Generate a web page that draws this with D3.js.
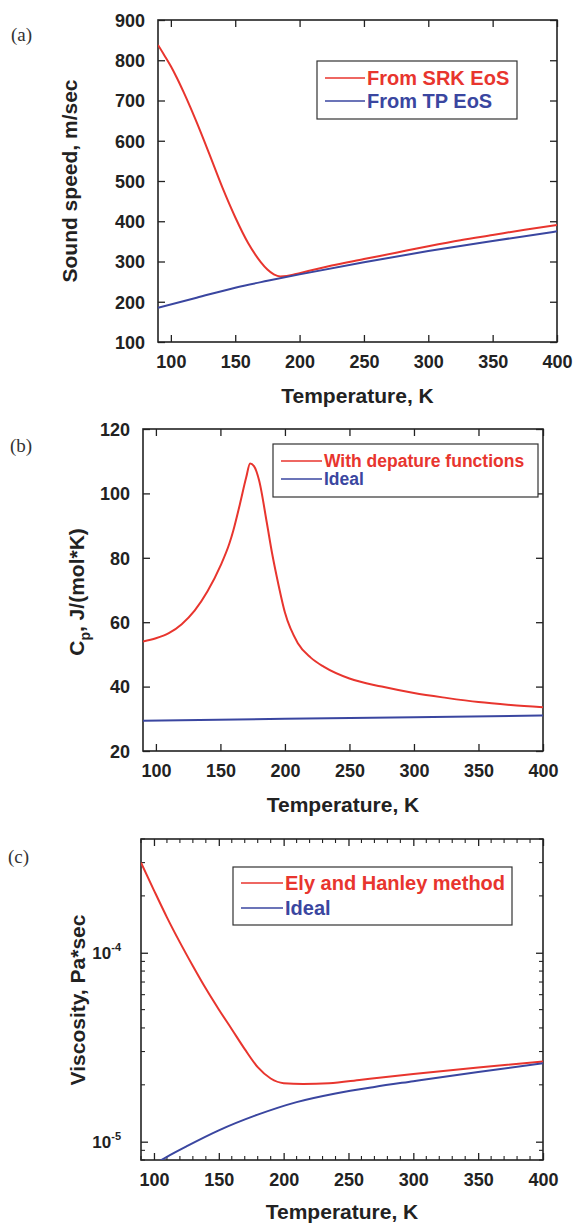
<!DOCTYPE html>
<html>
<head>
<meta charset="utf-8">
<script src="https://cdn.jsdelivr.net/npm/d3@7"></script>
<style>
  body { margin: 0; background: #fff; }
  svg text { font-family: "Liberation Sans", Arial, sans-serif; }
</style>
</head>
<body>
<div id="chart"></div>
<script>
// ---- data ----
// (a) sound speed, m/s
const srkTemp  = [90, 95, 100, 105, 110, 115, 120, 130, 140, 150, 160, 170, 175, 180, 185, 190, 195, 200, 225, 250, 275, 300, 325, 350, 375, 400];
const srkSpeed = [838, 812, 785, 754, 720, 684, 646, 566, 484, 410, 346, 298, 280, 268, 263, 264, 267, 271, 290, 306, 322, 338, 353, 366, 379, 391];
const tpTemp   = [90, 120, 150, 175, 200, 250, 300, 350, 400];
const tpSpeed  = [185, 210, 235, 252, 268, 298, 326, 351, 375];

// (b) heat capacity, J/(mol*K)
const depTemp = [90, 100, 110, 120, 130, 140, 150, 157, 160, 165, 170, 173, 176, 180, 186, 190, 194, 200, 210, 220, 230, 250, 275, 300, 325, 350, 375, 400];
const depCp   = [54, 55, 56.6, 59.4, 63.6, 69.6, 77.5, 84.5, 88.5, 96.5, 105, 109.3, 108.5, 104, 90.8, 81.5, 73.5, 63, 53.5, 49, 46.2, 42.5, 40, 38, 36.5, 35.2, 34.3, 33.6];
const idealCpTemp = [90, 200, 300, 400];
const idealCp     = [29.4, 30, 30.5, 31];

// (c) viscosity, Pa*s
const elyTemp = [90, 100, 110, 120, 130, 140, 150, 160, 170, 180, 190, 200, 215, 235, 260, 300, 350, 400];
const elyVisc = [3.0e-4, 2.14e-4, 1.54e-4, 1.135e-4, 8.51e-5, 6.46e-5, 5.01e-5, 3.94e-5, 3.09e-5, 2.48e-5, 2.16e-5, 2.04e-5, 2.02e-5, 2.04e-5, 2.13e-5, 2.28e-5, 2.47e-5, 2.66e-5];
const idealVTemp = [90, 100, 110, 125, 150, 180, 210, 240, 270, 300, 350, 400];
const idealVisc  = [6.92e-6, 7.59e-6, 8.32e-6, 9.44e-6, 1.148e-5, 1.39e-5, 1.62e-5, 1.80e-5, 1.95e-5, 2.09e-5, 2.34e-5, 2.60e-5];

const xTicks = [100, 150, 200, 250, 300, 350, 400];
const speedTicks = [100, 200, 300, 400, 500, 600, 700, 800, 900];
const cpTicks = [20, 40, 60, 80, 100, 120];
const viscTicks = [1e-5, 1e-4];

const RED = "#e8352e";
const BLUE = "#3a46a0";
const INK = "#222";

const svg = d3.select("#chart").append("svg")
    .attr("width", 574)
    .attr("height", 1223);

function drawPanel(p) {
    const x = d3.scaleLinear().domain([90, 400]).range([p.left, p.right]);
    const y = p.y.range([p.bottom, p.top]);
    const g = svg.append("g");

    const clipId = "clip-" + p.id;
    g.append("clipPath").attr("id", clipId)
        .append("rect")
        .attr("x", p.left).attr("y", p.top)
        .attr("width", p.right - p.left).attr("height", p.bottom - p.top);

    // bottom axis with labels, ticks pointing inward
    const bottom = g.append("g")
        .attr("transform", `translate(0,${p.bottom})`)
        .call(d3.axisBottom(x).tickValues(xTicks).tickSizeInner(-7).tickSizeOuter(0).tickPadding(p.xPad));
    const top = g.append("g")
        .attr("transform", `translate(0,${p.top})`)
        .call(d3.axisTop(x).tickValues(xTicks).tickSizeInner(-7).tickSizeOuter(0).tickFormat(""));

    let left, right;
    if (p.log) {
        left = g.append("g").attr("transform", `translate(${p.left},0)`)
            .call(d3.axisLeft(y).tickValues(p.yTicks).tickSizeInner(-7).tickSizeOuter(0).tickFormat(""));
        right = g.append("g").attr("transform", `translate(${p.right},0)`)
            .call(d3.axisRight(y).tickValues(p.yTicks).tickSizeInner(-7).tickSizeOuter(0).tickFormat(""));
        const minorY = y.ticks().filter(v => !p.yTicks.includes(v));
        [[p.left, 1], [p.right, -1]].forEach(([px, dir]) => {
            g.selectAll(null).data(minorY).join("line")
                .attr("x1", px).attr("x2", px + dir * 4)
                .attr("y1", d => y(d)).attr("y2", d => y(d))
                .attr("stroke", INK).attr("stroke-width", 1.1);
        });
        const minorX = d3.range(90, 401, 10).filter(v => v % 50 !== 0);
        [[p.bottom, -1], [p.top, 1]].forEach(([py, dir]) => {
            g.selectAll(null).data(minorX).join("line")
                .attr("x1", d => x(d)).attr("x2", d => x(d))
                .attr("y1", py).attr("y2", py + dir * 4)
                .attr("stroke", INK).attr("stroke-width", 1.1);
        });
        // 10^n labels
        p.yTicks.forEach(v => {
            const t = g.append("text")
                .attr("x", p.left - 20).attr("y", y(v) + 6)
                .attr("text-anchor", "end")
                .attr("font-size", 17).attr("font-weight", "bold").attr("fill", INK);
            t.append("tspan").text("10");
            t.append("tspan").attr("dy", -8).attr("font-size", 11).text("-" + Math.round(-Math.log10(v)));
        });
    } else {
        left = g.append("g").attr("transform", `translate(${p.left},0)`)
            .call(d3.axisLeft(y).tickValues(p.yTicks).tickSizeInner(-7).tickSizeOuter(0).tickPadding(13));
        right = g.append("g").attr("transform", `translate(${p.right},0)`)
            .call(d3.axisRight(y).tickValues(p.yTicks).tickSizeInner(-7).tickSizeOuter(0).tickFormat(""));
    }

    [bottom, top, left, right].forEach(a => {
        a.select(".domain").remove();
        a.selectAll(".tick line").attr("stroke", INK).attr("stroke-width", 1.3);
        a.selectAll(".tick text")
            .attr("font-size", 18).attr("font-weight", "bold").attr("fill", INK)
            .attr("font-family", "Liberation Sans, Arial, sans-serif");
    });
    left.selectAll(".tick text").attr("dy", "0.35em");

    // frame
    g.append("rect")
        .attr("x", p.left).attr("y", p.top)
        .attr("width", p.right - p.left).attr("height", p.bottom - p.top)
        .attr("fill", "none").attr("stroke", INK).attr("stroke-width", 1.6);

    const line = d3.line().curve(d3.curveMonotoneX).x(d => x(d[0])).y(d => y(d[1]));
    p.series.forEach(s => {
        g.append("path")
            .datum(d3.zip(s.t, s.v))
            .attr("clip-path", `url(#${clipId})`)
            .attr("fill", "none")
            .attr("stroke", s.color)
            .attr("stroke-width", 2)
            .attr("d", line);
    });

    // legend
    const L = p.legend;
    g.append("rect")
        .attr("x", L.x).attr("y", L.y).attr("width", L.w).attr("height", L.h)
        .attr("fill", "#fff").attr("stroke", "#333").attr("stroke-width", 1.2);
    p.series.forEach((s, i) => {
        const ly = L.y + L.first + i * L.step;
        g.append("line")
            .attr("x1", L.x + 8).attr("x2", L.x + 8 + L.len)
            .attr("y1", ly).attr("y2", ly)
            .attr("stroke", s.color).attr("stroke-width", 1.6);
        g.append("text")
            .attr("x", L.x + 10 + L.len).attr("y", ly + L.fs * 0.36)
            .attr("font-size", L.fs).attr("font-weight", "bold")
            .attr("fill", s.color)
            .text(s.name);
    });

    // axis titles
    g.append("text")
        .attr("x", (p.left + p.right) / 2).attr("y", p.xTitleY)
        .attr("text-anchor", "middle")
        .attr("font-size", 21).attr("font-weight", "bold").attr("fill", INK)
        .text("Temperature, K");

    const yt = g.append("text")
        .attr("transform", `translate(${p.yTitleX},${p.yTitleY}) rotate(-90)`)
        .attr("text-anchor", "middle")
        .attr("font-size", 21).attr("font-weight", "bold").attr("fill", INK);
    p.yTitle(yt);

    g.append("text")
        .attr("x", p.tagX).attr("y", p.tagY)
        .attr("font-size", 19).attr("fill", "#333")
        .style("font-family", "'Liberation Serif', 'DejaVu Serif', serif")
        .text(p.tag);
}

drawPanel({
    id: "a", tag: "(a)", tagX: 11, tagY: 41,
    left: 158, right: 557, top: 20, bottom: 342,
    y: d3.scaleLinear().domain([100, 900]), yTicks: speedTicks,
    xPad: 13, xTitleY: 403,
    yTitleX: 77, yTitleY: 181,
    yTitle: t => t.text("Sound speed, m/sec"),
    legend: { x: 317, y: 61, w: 200, h: 58, first: 17, step: 23, len: 40, fs: 20 },
    series: [
        { name: "From SRK EoS", t: srkTemp, v: srkSpeed, color: RED },
        { name: "From TP EoS", t: tpTemp, v: tpSpeed, color: BLUE }
    ]
});

drawPanel({
    id: "b", tag: "(b)", tagX: 10, tagY: 452,
    left: 143, right: 543, top: 429, bottom: 751,
    y: d3.scaleLinear().domain([20, 120]), yTicks: cpTicks,
    xPad: 13, xTitleY: 812,
    yTitleX: 84, yTitleY: 592,
    yTitle: t => {
        t.append("tspan").text("C");
        t.append("tspan").attr("dy", 6).attr("font-size", 14).text("p");
        t.append("tspan").attr("dy", -6).text(", J/(mol*K)");
    },
    legend: { x: 273, y: 444, w: 265, h: 53, first: 17, step: 18, len: 41, fs: 17.5 },
    series: [
        { name: "With depature functions", t: depTemp, v: depCp, color: RED },
        { name: "Ideal", t: idealCpTemp, v: idealCp, color: BLUE }
    ]
});

drawPanel({
    id: "c", tag: "(c)", tagX: 8, tagY: 863, log: true,
    left: 141, right: 543, top: 839, bottom: 1160,
    y: d3.scaleLog().domain([8e-6, 4e-4]), yTicks: viscTicks,
    xPad: 13, xTitleY: 1219,
    yTitleX: 85, yTitleY: 1000,
    yTitle: t => t.text("Viscosity, Pa*sec"),
    legend: { x: 233, y: 867, w: 279, h: 58, first: 16, step: 25, len: 42, fs: 20 },
    series: [
        { name: "Ely and Hanley method", t: elyTemp, v: elyVisc, color: RED },
        { name: "Ideal", t: idealVTemp, v: idealVisc, color: BLUE }
    ]
});
</script>
</body>
</html>
